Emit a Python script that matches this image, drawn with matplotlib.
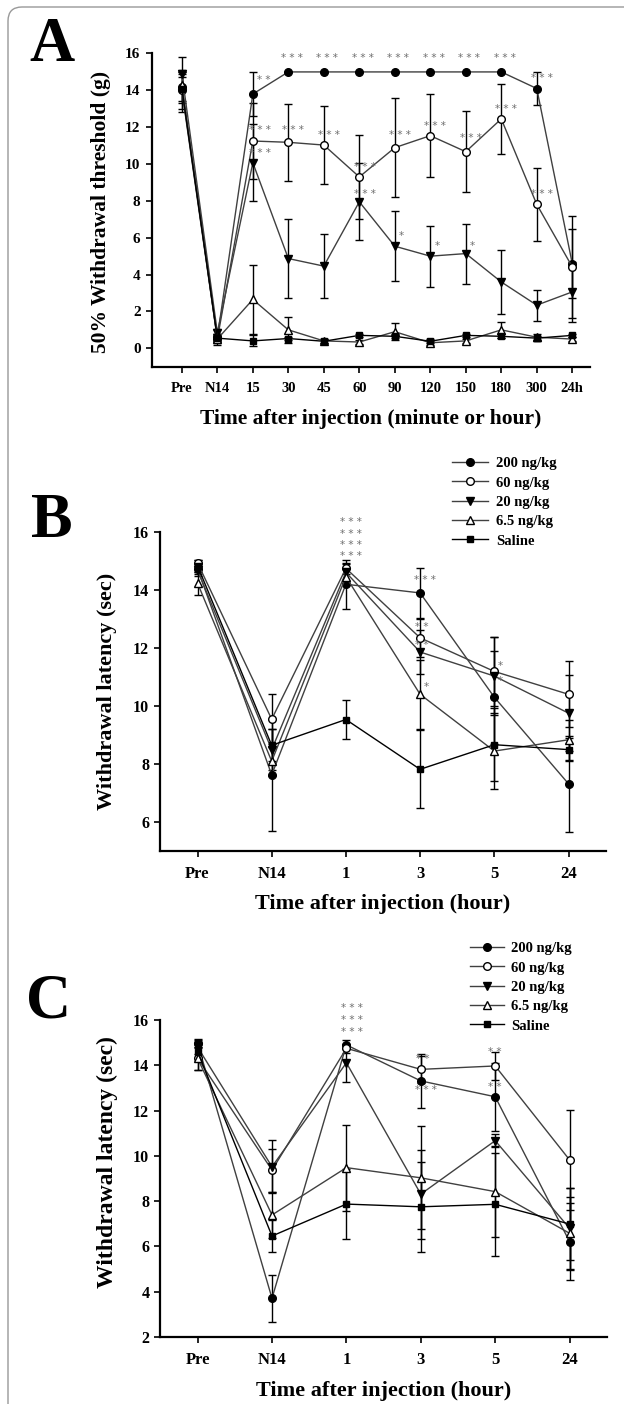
import numpy as np
import matplotlib
matplotlib.use('Agg')
import matplotlib.pyplot as plt
import matplotlib.patches as mpatches
from matplotlib.transforms import IdentityTransform

plt.rcParams['font.family'] = 'Liberation Serif'
plt.rcParams['font.weight'] = 'bold'

# ---- panel A data ----
cats_a = ['Pre', 'N14', '15', '30', '45', '60', '90', '120', '150', '180', '300', '24h']
a_200 = [14.2, 0.6, 13.8, 15.0, 15.0, 15.0, 15.0, 15.0, 15.0, 15.0, 14.1, 4.6]
a_200_err = [0.8, 0.2, 1.2, 0, 0, 0, 0, 0, 0, 0, 0.9, 1.85]
a_60 = [14.0, 0.5, 11.25, 11.18, 11.03, 9.3, 10.89, 11.54, 10.67, 12.45, 7.81, 4.42]
a_60_err = [1.0, 0.2, 2.05, 2.1, 2.1, 2.3, 2.67, 2.25, 2.2, 1.9, 2.0, 2.75]
a_20 = [14.9, 0.85, 10.07, 4.87, 4.46, 7.95, 5.54, 5.0, 5.14, 3.6, 2.34, 3.06]
a_20_err = [0.2, 0.2, 2.1, 2.15, 1.75, 2.1, 1.9, 1.65, 1.63, 1.72, 0.85, 1.62]
a_65 = [14.3, 0.5, 2.65, 1.0, 0.4, 0.34, 0.9, 0.3, 0.4, 1.0, 0.6, 0.5]
a_65_err = [1.5, 0.3, 1.85, 0.7, 0.1, 0.1, 0.45, 0.1, 0.1, 0.45, 0.2, 0.1]
a_sal = [14.1, 0.55, 0.4, 0.53, 0.38, 0.7, 0.65, 0.38, 0.7, 0.65, 0.55, 0.7]
a_sal_err = [0.8, 0.2, 0.3, 0.1, 0.1, 0.1, 0.1, 0.1, 0.1, 0.1, 0.1, 0.1]
a_stars = [(2, 14.55, '* *', 0.3), (3, 15.75, '* * *', 0.1), (4, 15.75, '* * *', 0.1),
           (5, 15.75, '* * *', 0.1), (6, 15.75, '* * *', 0.1), (7, 15.75, '* * *', 0.1),
           (8, 15.75, '* * *', 0.1), (9, 15.75, '* * *', 0.1), (10, 14.65, '* * *', 0.14),
           (2, 11.85, '* * *', 0.2), (3, 11.85, '* * *', 0.14), (4, 11.58, '* * *', 0.14),
           (5, 9.86, '* * *', 0.17), (6, 11.58, '* * *', 0.14), (7, 12.07, '* * *', 0.13),
           (8, 11.4, '* * *', 0.14), (9, 12.97, '* * *', 0.14), (10, 8.4, '* * *', 0.14),
           (2, 10.58, '* * *', 0.2), (5, 8.4, '* * *', 0.17),
           (6, 6.09, '*', 0.19), (7, 5.54, '*', 0.19), (8, 5.54, '*', 0.19)]

# ---- panel B data ----
cats_bc = ['Pre', 'N14', '1', '3', '5', '24']
b_200 = [14.75, 7.63, 14.21, 13.91, 10.31, 7.32]
b_200_err = [0.2, 1.93, 0.84, 0.87, 1.6, 1.65]
b_60 = [14.95, 9.55, 14.76, 12.36, 11.2, 10.41]
b_60_err = [0.1, 0.87, 0.2, 0.65, 1.2, 1.14]
b_20 = [14.7, 8.5, 14.62, 11.87, 11.04, 9.76]
b_20_err = [0.2, 0.7, 0.3, 0.75, 1.35, 1.3]
b_65 = [14.25, 8.1, 14.47, 10.41, 8.45, 8.84]
b_65_err = [0.4, 0.5, 0.3, 1.2, 1.3, 0.7]
b_sal = [14.85, 8.65, 9.54, 7.82, 8.67, 8.5]
b_sal_err = [0.2, 0.55, 0.67, 1.35, 1.25, 0.4]
b_stars = [(2, 16.37, '* * *', 0.07), (2, 15.93, '* * *', 0.07), (2, 15.56, '* * *', 0.07),
           (2, 15.18, '* * *', 0.07), (3, 14.35, '* * *', 0.07), (3, 12.72, '* *', 0.02),
           (3, 12.1, '* *', 0.02), (3, 10.66, '*', 0.08), (4, 11.38, '*', 0.08),
           (4, 10.87, '*', 0.08)]

# ---- panel C data ----
c_200 = [14.97, 3.71, 14.9, 13.31, 12.61, 6.21]
c_200_err = [0.2, 1.05, 0.2, 1.18, 1.5, 1.7]
c_60 = [14.31, 9.37, 14.75, 13.82, 13.97, 9.82]
c_60_err = [0.5, 0.95, 0.2, 0.6, 0.6, 2.2]
c_20 = [14.8, 9.52, 14.11, 8.31, 10.67, 6.8]
c_20_err = [0.3, 1.18, 0.83, 1.97, 0.3, 1.8]
c_65 = [14.3, 7.39, 9.48, 9.03, 8.42, 6.58]
c_65_err = [0.5, 1.03, 1.9, 2.27, 2.0, 1.6]
c_sal = [14.6, 6.46, 7.87, 7.75, 7.86, 6.99]
c_sal_err = [0.3, 0.7, 1.55, 2.0, 2.27, 1.6]
c_stars = [(2, 16.52, '* * *', 0.07), (2, 16.0, '* * *', 0.07), (2, 15.48, '* * *', 0.07),
           (3, 14.26, '* *', 0.02), (3, 12.91, '* * *', 0.07),
           (4, 14.57, '* *', 0.0), (4, 13.05, '* *', 0.0)]

labels = ['200 ng/kg', '60 ng/kg', '20 ng/kg', '6.5 ng/kg', 'Saline']
styles = [dict(marker='o', mfc='black', ms=5.5, color='#404040'),
          dict(marker='o', mfc='white', ms=5.5, color='#404040'),
          dict(marker='v', mfc='black', ms=6, color='#404040'),
          dict(marker='^', mfc='white', ms=6, color='#404040'),
          dict(marker='s', mfc='black', ms=5, color='black')]

W, H = 624, 1404
fig = plt.figure(figsize=(W / 100, H / 100), dpi=100)


def px_rect(x0, y0, x1, y1):
    return [x0 / W, 1 - y1 / H, (x1 - x0) / W, (y1 - y0) / H]


def panel(rect, cats, series, errs, stars, ylim, yticks, xlim, xfs, yfs):
    ax = fig.add_axes(rect)
    x = np.arange(len(cats))
    handles = []
    for vals, err, st, lab in zip(series, errs, styles, labels):
        ax.errorbar(x, vals, yerr=err, fmt='none', ecolor='black', elinewidth=1.0,
                    capsize=3, capthick=1.0, zorder=2)
        h, = ax.plot(x, vals, marker=st['marker'], mfc=st['mfc'], mec='black', ms=st['ms'],
                     color=st['color'], lw=1.0, zorder=3, label=lab)
        handles.append(h)
    for i, yv, s, dx in stars:
        ax.text(i + dx, yv, s, ha='center', va='center', fontsize=7.5, color='#707070',
                family='DejaVu Sans', fontweight='normal')
    ax.set_xlim(*xlim)
    ax.set_ylim(*ylim)
    ax.set_xticks(x)
    ax.set_xticklabels(cats)
    ax.set_yticks(yticks)
    ax.spines['top'].set_visible(False)
    ax.spines['right'].set_visible(False)
    ax.spines['left'].set_linewidth(1.6)
    ax.spines['bottom'].set_linewidth(1.6)
    ax.tick_params(axis='both', direction='out', length=4, width=1.2)
    ax.tick_params(axis='x', pad=7, labelsize=xfs)
    ax.tick_params(axis='y', pad=4, labelsize=yfs)
    for t in ax.get_xticklabels() + ax.get_yticklabels():
        t.set_fontweight('bold')
    return ax, handles


axA, _ = panel(px_rect(151.7, 53.5, 590, 366.7), cats_a,
               [a_200, a_60, a_20, a_65, a_sal],
               [a_200_err, a_60_err, a_20_err, a_65_err, a_sal_err],
               a_stars, (-1, 16), np.arange(0, 17, 2), (-0.85, 11.5), 10.5, 11)

axB, hB = panel(px_rect(160.4, 532.4, 605.6, 851), cats_bc,
                [b_200, b_60, b_20, b_65, b_sal],
                [b_200_err, b_60_err, b_20_err, b_65_err, b_sal_err],
                b_stars, (5, 16), np.arange(6, 17, 2), (-0.5, 5.5), 12, 11.5)

axC, hC = panel(px_rect(160.4, 1020, 606.8, 1337), cats_bc,
                [c_200, c_60, c_20, c_65, c_sal],
                [c_200_err, c_60_err, c_20_err, c_65_err, c_sal_err],
                c_stars, (2, 16), np.arange(2, 17, 2), (-0.5, 5.5), 12, 11.5)

# legends
for hs, x0, y0, hl in [(hB, 452, 457, 2.5), (hC, 470, 942, 2.3)]:
    fig.legend(handles=hs, loc='upper left', bbox_to_anchor=(x0 / W, 1 - y0 / H),
               frameon=False, handlelength=hl, handletextpad=0.5,
               labelspacing=0.42, borderpad=0, borderaxespad=0,
               prop=dict(family='Liberation Serif', weight='bold', size=10.5))

# axis labels
fig.text(371 / W, 1 - 419 / H, 'Time after injection (minute or hour)',
         fontsize=15.5, fontweight='bold', ha='center', va='center')
fig.text(101.5 / W, 1 - 212 / H, '50% Withdrawal threshold (g)', rotation=90,
         fontsize=15.5, fontweight='bold', ha='center', va='center')
fig.text(383 / W, 1 - 904 / H, 'Time after injection (hour)',
         fontsize=16, fontweight='bold', ha='center', va='center')
fig.text(107.4 / W, 1 - 691 / H, 'Withdrawal latency (sec)', rotation=90,
         fontsize=16, fontweight='bold', ha='center', va='center')
fig.text(384 / W, 1 - 1391 / H, 'Time after injection (hour)',
         fontsize=16, fontweight='bold', ha='center', va='center')
fig.text(107.4 / W, 1 - 1162 / H, 'Withdrawal latency (sec)', rotation=90,
         fontsize=17, fontweight='bold', ha='center', va='center')

# panel letters
let_kw = dict(fontsize=45, fontweight='bold', ha='center', va='center')
fig.text(52 / W, 1 - 46 / H, 'A', **let_kw)
fig.text(52 / W, 1 - 522 / H, 'B', **let_kw)
fig.text(49 / W, 1 - 1002 / H, 'C', **let_kw)

# outer frame
frame = mpatches.FancyBboxPatch((8, -60), 700, H - 7 + 60, boxstyle='round,pad=0,rounding_size=14',
                                transform=IdentityTransform(), fill=False, ec='#999999', lw=1.0)
fig.add_artist(frame)

fig.savefig('out.png', dpi=100)
